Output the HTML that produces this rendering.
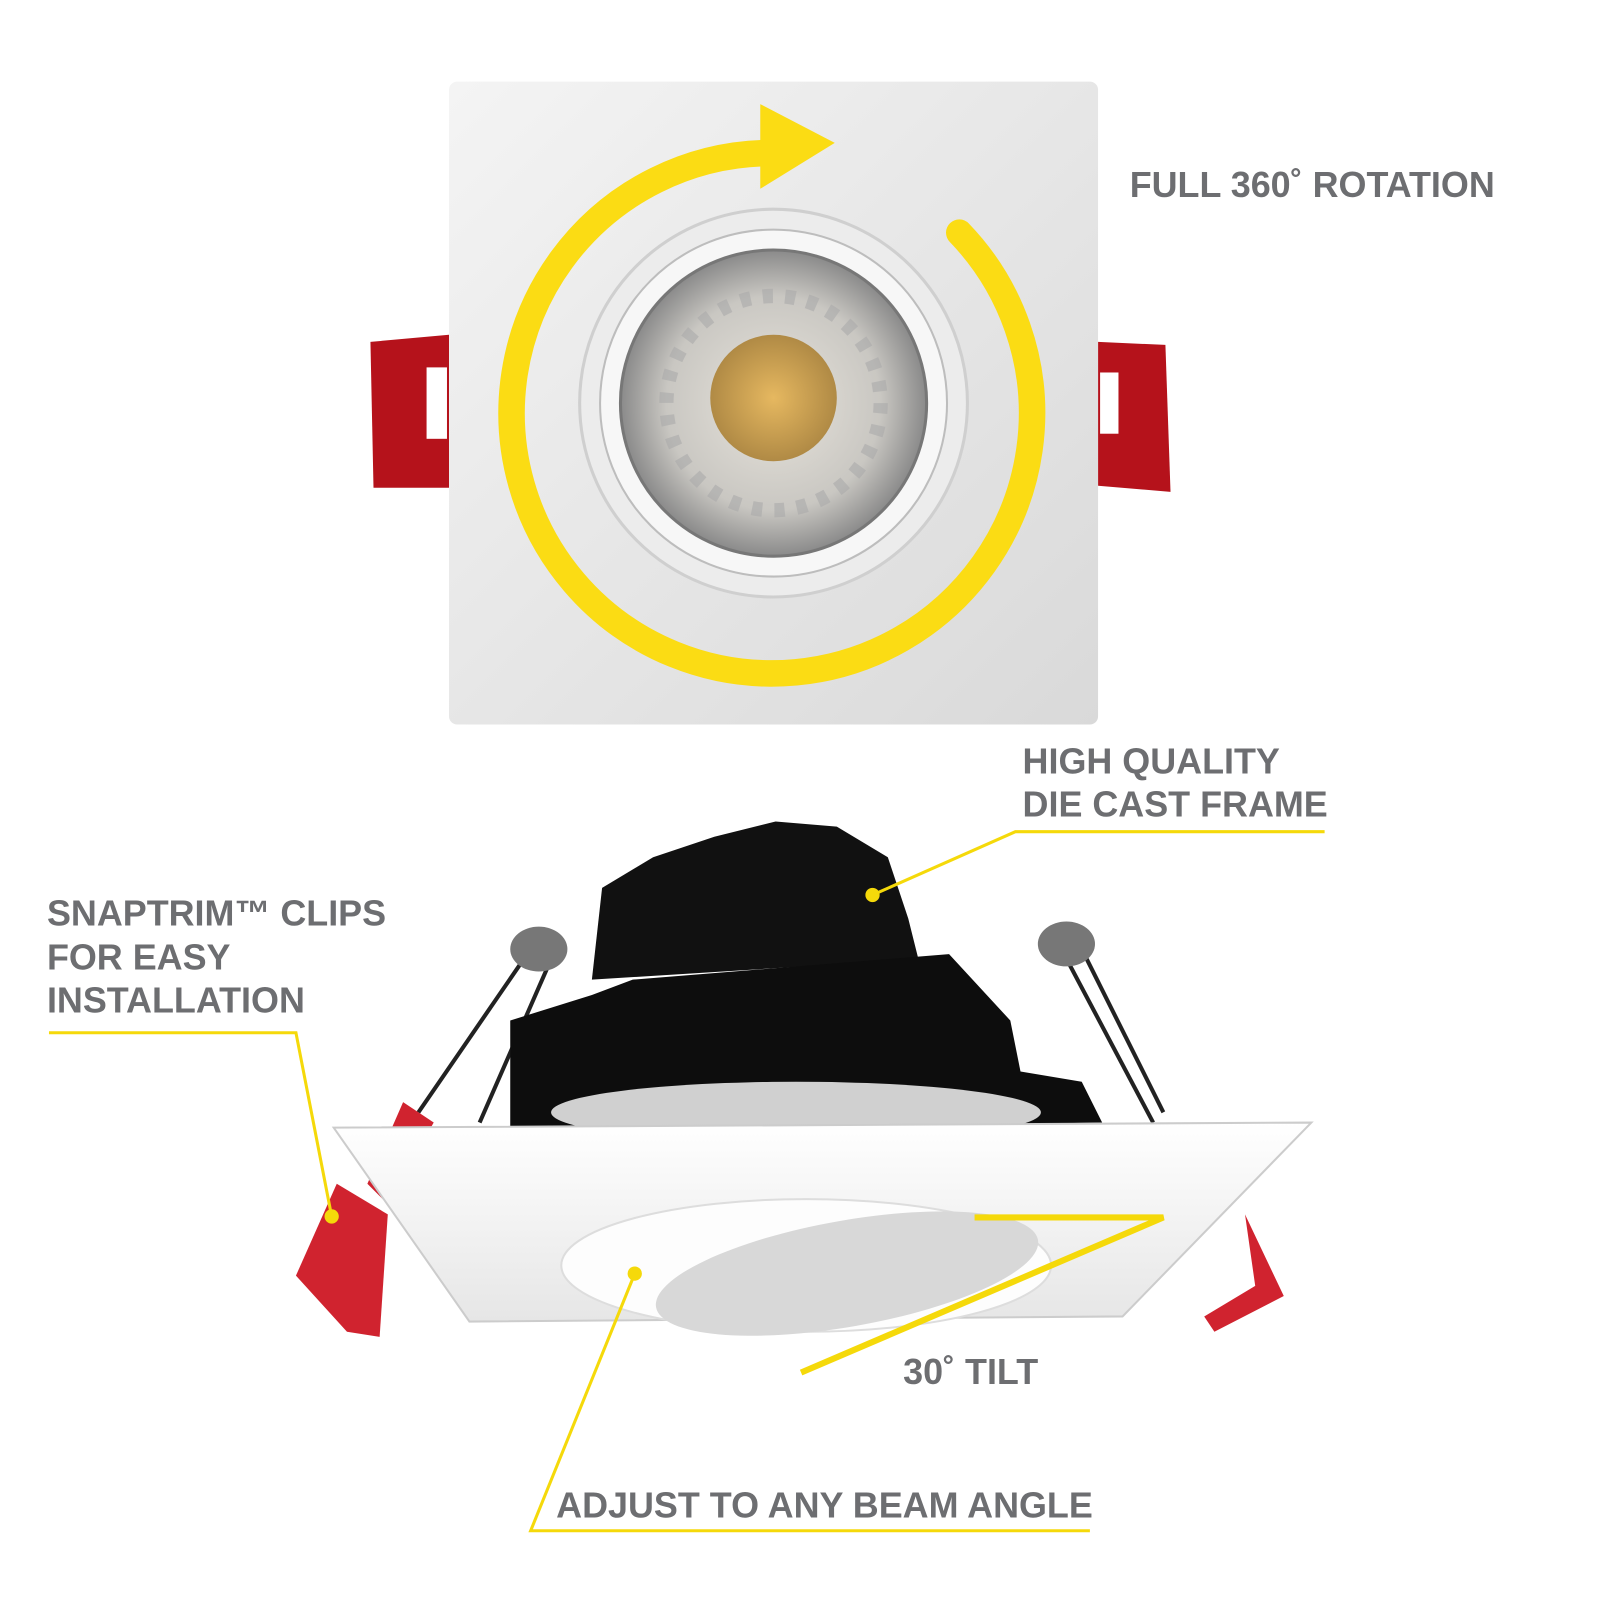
<!DOCTYPE html>
<html><head><meta charset="utf-8"><style>html,body{margin:0;padding:0;background:#fff}svg{display:block}</style></head>
<body>
<svg width="1600" height="1600" viewBox="0 0 1600 1600" xmlns="http://www.w3.org/2000/svg">
<defs>
<linearGradient id="plate" x1="0" y1="0" x2="1" y2="1"><stop offset="0" stop-color="#f4f4f4"/><stop offset="1" stop-color="#d9d9d9"/></linearGradient>
<radialGradient id="lens" cx="0.5" cy="0.5" r="0.5"><stop offset="0" stop-color="#e8e4dc"/><stop offset="0.7" stop-color="#c9c7c2"/><stop offset="1" stop-color="#8a8a8a"/></radialGradient>
<radialGradient id="core" cx="0.5" cy="0.5" r="0.5"><stop offset="0" stop-color="#e6b860"/><stop offset="1" stop-color="#b08a45"/></radialGradient>
<linearGradient id="trim" x1="0" y1="0" x2="0" y2="1"><stop offset="0" stop-color="#ffffff"/><stop offset="1" stop-color="#e6e6e6"/></linearGradient>
</defs>
<g transform="scale(1.0205)">
<path d="M363 335 L440 328 L440 478 L366 478 Z" fill="#b5121b"/>
<rect x="418" y="360" width="20" height="70" fill="#fff"/>
<path d="M1076 335 L1142 338 L1147 482 L1076 476 Z" fill="#b5121b"/>
<rect x="1078" y="365" width="18" height="60" fill="#fff"/>
<rect x="440" y="80" width="636" height="630" rx="8" fill="url(#plate)"/>
<circle cx="758" cy="395" r="190" fill="#ececec" stroke="#cfcfcf" stroke-width="3"/>
<circle cx="758" cy="395" r="170" fill="#f7f7f7" stroke="#bdbdbd" stroke-width="2"/>
<circle cx="758" cy="395" r="150" fill="url(#lens)" stroke="#777" stroke-width="3"/>
<circle cx="758" cy="395" r="105" fill="none" stroke="#aaa" stroke-width="14" stroke-dasharray="10 12" opacity="0.6"/>
<circle cx="758" cy="390" r="62" fill="url(#core)"/>
<path d="M748 150 A255 255 0 1 0 940 228" fill="none" stroke="#fbdc14" stroke-width="26" stroke-linecap="round"/>
<path d="M745 102 L818 140 L745 185 Z" fill="#fbdc14"/>
<g font-family="Liberation Sans, sans-serif" font-weight="bold" font-size="35.2" fill="#6d6e71">
<text x="1107" y="193">FULL 360˚ ROTATION</text>
<text x="1002" y="758">HIGH QUALITY</text>
<text x="1002" y="800">DIE CAST FRAME</text>
<text x="46" y="907">SNAPTRIM™ CLIPS</text>
<text x="46" y="950">FOR EASY</text>
<text x="46" y="992">INSTALLATION</text>
<text x="885" y="1356">30˚ TILT</text>
<text x="545" y="1487">ADJUST TO ANY BEAM ANGLE</text>
</g>
<g stroke="#222" stroke-width="4" fill="none">
<line x1="520" y1="930" x2="410" y2="1090"/><line x1="540" y1="940" x2="470" y2="1100"/>
<line x1="1040" y1="930" x2="1130" y2="1100"/><line x1="1060" y1="930" x2="1140" y2="1090"/>
</g>
<ellipse cx="528" cy="930" rx="28" ry="22" fill="#777"/>
<ellipse cx="1045" cy="925" rx="28" ry="22" fill="#777"/>
<path d="M590 870 L640 840 L700 820 L760 805 L820 810 L870 840 L890 900 L900 940 L580 960 Z" fill="#111"/>
<path d="M500 1000 L580 975 L620 960 L930 935 L990 1000 L1000 1050 L1060 1060 L1080 1100 L500 1110 Z" fill="#0d0d0d"/>
<ellipse cx="780" cy="1090" rx="240" ry="30" fill="#d0d0d0"/>
<path d="M395 1080 L425 1100 L380 1180 L360 1160 Z" fill="#d0232f"/>
<path d="M330 1160 L380 1190 L372 1310 L340 1305 L290 1250 Z" fill="#d0232f"/>
<path d="M1220 1190 L1258 1270 L1190 1305 L1180 1290 L1230 1260 Z" fill="#d0232f"/>
<path d="M327 1105 L1285 1100 L1100 1290 L460 1295 Z" fill="url(#trim)" stroke="#ccc" stroke-width="2"/>
<ellipse cx="790" cy="1240" rx="240" ry="65" fill="#fdfdfd" stroke="#ddd" stroke-width="2"/>
<ellipse cx="830" cy="1248" rx="190" ry="52" fill="#d8d8d8" transform="rotate(-10 830 1248)"/>
<g stroke="#f5d90a" stroke-width="3" fill="none">
<polyline points="1298,815 995,815 855,877"/>
<polyline points="48,1012 290,1012 325,1192"/>
<polyline points="955,1193 1140,1193 785,1345" stroke-width="6"/>
<polyline points="1068,1500 520,1500 622,1248"/>
</g>
<g fill="#f5d90a"><circle cx="855" cy="877" r="7"/><circle cx="325" cy="1192" r="7"/><circle cx="622" cy="1248" r="7"/></g>
</g>
</svg>
</body></html>
